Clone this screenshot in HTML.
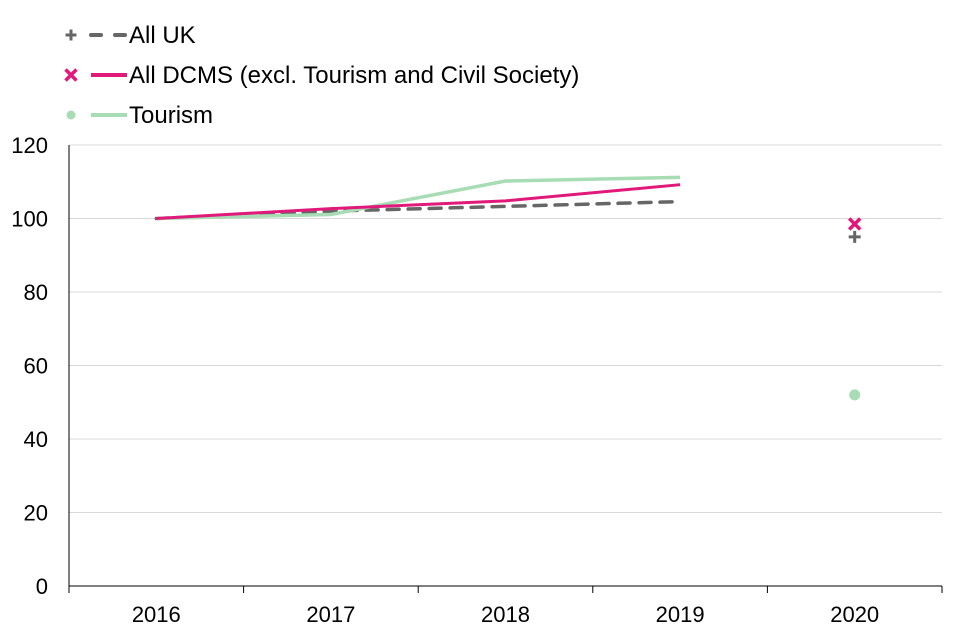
<!DOCTYPE html>
<html><head><meta charset="utf-8"><style>
body{margin:0;background:#fff;}
svg{display:block;font-family:"Liberation Sans",Arial,sans-serif;}
</style></head><body>
<svg id="chart" width="960" height="640"></svg>
<script>
const categories = ["2016","2017","2018","2019","2020"];
const allUK = [100, 102, 103.3, 104.6, null];
const allUK2020 = 95;
const dcms = [100, 102.7, 104.8, 109.2, null];
const dcms2020 = 98.5;
const tourism = [100, 101.1, 110.2, 111.2, null];
const tourism2020 = 52;
const yTicks = [0, 20, 40, 60, 80, 100, 120];

const NS = "http://www.w3.org/2000/svg";
const svg = document.getElementById("chart");
const x0 = 69, x1 = 942, yBot = 586, yTop = 145;
const bw = (x1 - x0) / categories.length;
const xs = i => x0 + bw * (i + 0.5);
const ys = v => yBot - (v / 120) * (yBot - yTop);
function mk(tag, attrs, parent) {
  const e = document.createElementNS(NS, tag);
  for (const k in attrs) e.setAttribute(k, attrs[k]);
  (parent || svg).appendChild(e);
  return e;
}
yTicks.forEach(t => {
  if (t > 0) {
    const g = mk("line", {x1: x0, x2: x1, y1: ys(t), y2: ys(t), stroke: "#d9d9d9", "stroke-width": 1});
    
    
  }
  const tx = mk("text", {x: 48, y: ys(t) + 8, "text-anchor": "end", "font-size": 22, fill: "#000"});
  tx.textContent = t;
  
  
});
const ya = mk("line", {x1: x0, x2: x0, y1: yTop, y2: yBot, stroke: "#000", "stroke-width": 1});


const xa = mk("line", {x1: x0, x2: x1, y1: yBot, y2: yBot, stroke: "#000", "stroke-width": 1});


for (let i = 0; i <= categories.length; i++) {
  const tk = mk("line", {x1: x0 + bw * i, x2: x0 + bw * i, y1: yBot, y2: yBot + 7, stroke: "#000"});
  
  
}
categories.forEach((c, i) => {
  const tx = mk("text", {x: xs(i), y: 622, "text-anchor": "middle", "font-size": 22});
  tx.textContent = c;
  
  
});
function linePath(arr) {
  let d = "";
  arr.forEach((v, i) => { if (v != null) d += (d ? "L" : "M") + xs(i) + "," + ys(v); });
  return d;
}
const lt = mk("path", {d: linePath(tourism), fill: "none", stroke: "#a8dcb4", "stroke-width": 3.5});


const lu = mk("path", {d: linePath(allUK), fill: "none", stroke: "#666", "stroke-width": 3.5, "stroke-dasharray": "12,9", "stroke-linecap": "round"});


const ld = mk("path", {d: linePath(dcms), fill: "none", stroke: "#e0197a", "stroke-width": 3});


svg.insertBefore(lu, lt);
const mt = mk("circle", {cx: xs(4), cy: ys(tourism2020), r: 5.5, fill: "#a8dcb4"});


function cross(x, y, s, col, w, nm) {
  const g = mk("path", {d: `M${x-s},${y-s}L${x+s},${y+s}M${x-s},${y+s}L${x+s},${y-s}`, stroke: col, "stroke-width": w});
  
  
}
function plus(x, y, s, col, w, nm) {
  const g = mk("path", {d: `M${x-s},${y}L${x+s},${y}M${x},${y-s}L${x},${y+s}`, stroke: col, "stroke-width": w});
  
  
}
cross(xs(4), ys(dcms2020), 5.5, "#e0197a", 3.5, 'all-dcms-2020-point');
plus(xs(4), ys(allUK2020), 6, "#666", 3, 'all-uk-2020-point');
const legend = [
  {label: "All UK", y: 35, col: "#666", dash: true, mark: "plus"},
  {label: "All DCMS (excl. Tourism and Civil Society)", y: 75, col: "#e0197a", mark: "cross"},
  {label: "Tourism", y: 115, col: "#a8dcb4", mark: "dot"}
];
legend.forEach(l => {
  if (l.mark === "plus") plus(71, l.y, 5.5, l.col, 3, 'legend-marker');
  if (l.mark === "cross") cross(71, l.y, 5.5, l.col, 3.5, 'legend-marker');
  if (l.mark === "dot") {
    const c = mk("circle", {cx: 71, cy: l.y, r: 4.5, fill: l.col});
    
    
  }
  const ln = mk("line", {x1: 91, x2: 127, y1: l.y, y2: l.y, stroke: l.col, "stroke-width": 4, "stroke-dasharray": l.dash ? "10,14" : "none", "stroke-linecap": l.dash ? "round" : "butt"});
  
  
  const t = mk("text", {x: 129, y: l.y + 8, "font-size": 24});
  t.textContent = l.label;
  
  
});
</script>
</body></html>
